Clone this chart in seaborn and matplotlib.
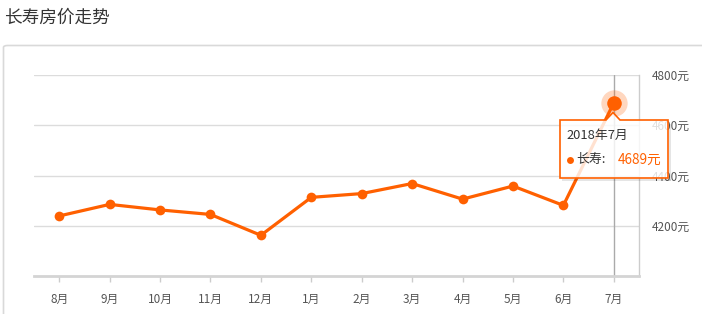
import matplotlib
matplotlib.use("Agg")
import matplotlib.pyplot as plt
import seaborn as sns
import pandas as pd
from matplotlib.patches import FancyBboxPatch, Rectangle, Polygon
from matplotlib.lines import Line2D

months = ["8月", "9月", "10月", "11月", "12月", "1月", "2月", "3月", "4月", "5月", "6月", "7月"]
prices = [4239, 4285, 4263, 4245, 4162, 4313, 4328, 4368, 4306, 4358, 4281, 4689]
y_ticks = [4200, 4400, 4600, 4800]
y_tick_labels = ["4200元", "4400元", "4600元", "4800元"]
title = "长寿房价走势"
series_name = "长寿"
tip_title = "2018年7月"

sns.set_theme(style="white")
plt.rcParams['font.family'] = ['Noto Sans CJK SC', 'DejaVu Sans']

W, H = 702, 314
fig = plt.figure(figsize=(W / 100, H / 100), dpi=100)

def fx(px):
    return px / W

def fy(py):
    return 1 - py / H

def fp(px, py):
    return (fx(px), fy(py))

# outer panel box
panel = FancyBboxPatch((fx(3.5), fy(314 + 20)), fx(760), (H - 45.5 + 20) / H,
                       boxstyle="round,pad=0,rounding_size=0.006",
                       transform=fig.transFigure, facecolor="none",
                       edgecolor="#d9d9d9", linewidth=1.2, zorder=-1)
fig.patches.append(panel)

fig.text(fx(4), fy(18), title, fontsize=12.7, color="#333333", va="center", ha="left")

ax = fig.add_axes([fx(34), fy(276), fx(639 - 34), (276 - 75) / H])
ax.set_facecolor("none")
ax.set_zorder(1)

orange = "#ff6000"
df = pd.DataFrame({"month": months, "price": prices})
x_idx = list(range(len(months)))
df["x"] = x_idx

# gridlines
for v in y_ticks:
    ax.axhline(v, color="#dcdcdc", linewidth=1, zorder=1)

# axis pointer
ax.axvline(x_idx[-1], color="#aaaaaa", linewidth=1, zorder=1)

sns.lineplot(data=df, x="x", y="price", ax=ax, color=orange, linewidth=2.3,
             marker="o", markersize=7, markeredgewidth=0, sort=False, zorder=3)

# highlighted last point
ax.scatter([x_idx[-1]], [prices[-1]], s=360, color=orange, alpha=0.25,
           linewidths=0, zorder=4)
ax.scatter([x_idx[-1]], [prices[-1]], s=110, color=orange, linewidths=0, zorder=5)

ax.set_xlim(-0.5, len(months) - 0.5)
ax.set_ylim(4000, 4800)
ax.set_xticks(x_idx)
ax.set_xticklabels(months, fontsize=8.5, color="#555555")
ax.yaxis.tick_right()
ax.set_yticks(y_ticks)
ax.set_yticklabels(y_tick_labels, fontsize=8.5, color="#555555")
ax.tick_params(axis="y", length=0, pad=9)
ax.tick_params(axis="x", length=4, width=1, color="#cccccc", pad=8, direction="out")
ax.xaxis.set_ticks_position("bottom")
ax.set_xlabel("")
ax.set_ylabel("")
for s in ["top", "left"]:
    ax.spines[s].set_visible(False)
ax.spines["right"].set_color("#cccccc")
ax.spines["right"].set_linewidth(1)
ax.spines["bottom"].set_color("#d4d4d4")
ax.spines["bottom"].set_linewidth(2)

# tooltip (semi-transparent, drawn above the axes)
tx0, ty0, tx1, ty1 = 560, 120, 668, 178
fig.add_artist(Rectangle(fp(tx1 + 0.5, ty1 + 2.5), fx(2.5), (ty1 - ty0 - 1) / H,
                         transform=fig.transFigure, facecolor="#000000", alpha=0.10,
                         edgecolor="none", zorder=9))
fig.add_artist(Rectangle(fp(tx0 + 2, ty1 + 3), fx(tx1 - tx0 + 1), 2.5 / H,
                         transform=fig.transFigure, facecolor="#000000", alpha=0.10,
                         edgecolor="none", zorder=9))
tip = Polygon([fp(tx0, ty0), fp(606, ty0), fp(613, 112.5), fp(620, ty0),
               fp(tx1, ty0), fp(tx1, ty1), fp(tx0, ty1)],
              closed=True, transform=fig.transFigure,
              facecolor=(1, 1, 1, 0.82), edgecolor=orange, linewidth=1.2,
              joinstyle="miter", zorder=10)
fig.add_artist(tip)

fig.text(fx(566), fy(135), tip_title, fontsize=9.3, color="#333333",
         va="center", ha="left", zorder=13)
fig.add_artist(Line2D([fx(570)], [fy(160)], marker="o", markersize=5,
                      color=orange, markeredgewidth=0, transform=fig.transFigure, zorder=13))
fig.text(fx(576), fy(160), series_name + ":", fontsize=9.3, color="#333333",
         va="center", ha="left", zorder=13)
fig.text(fx(618), fy(160), f"{prices[-1]}元", fontsize=9.8, color=orange,
         va="center", ha="left", zorder=13)

fig.savefig("out.png", dpi=100)
